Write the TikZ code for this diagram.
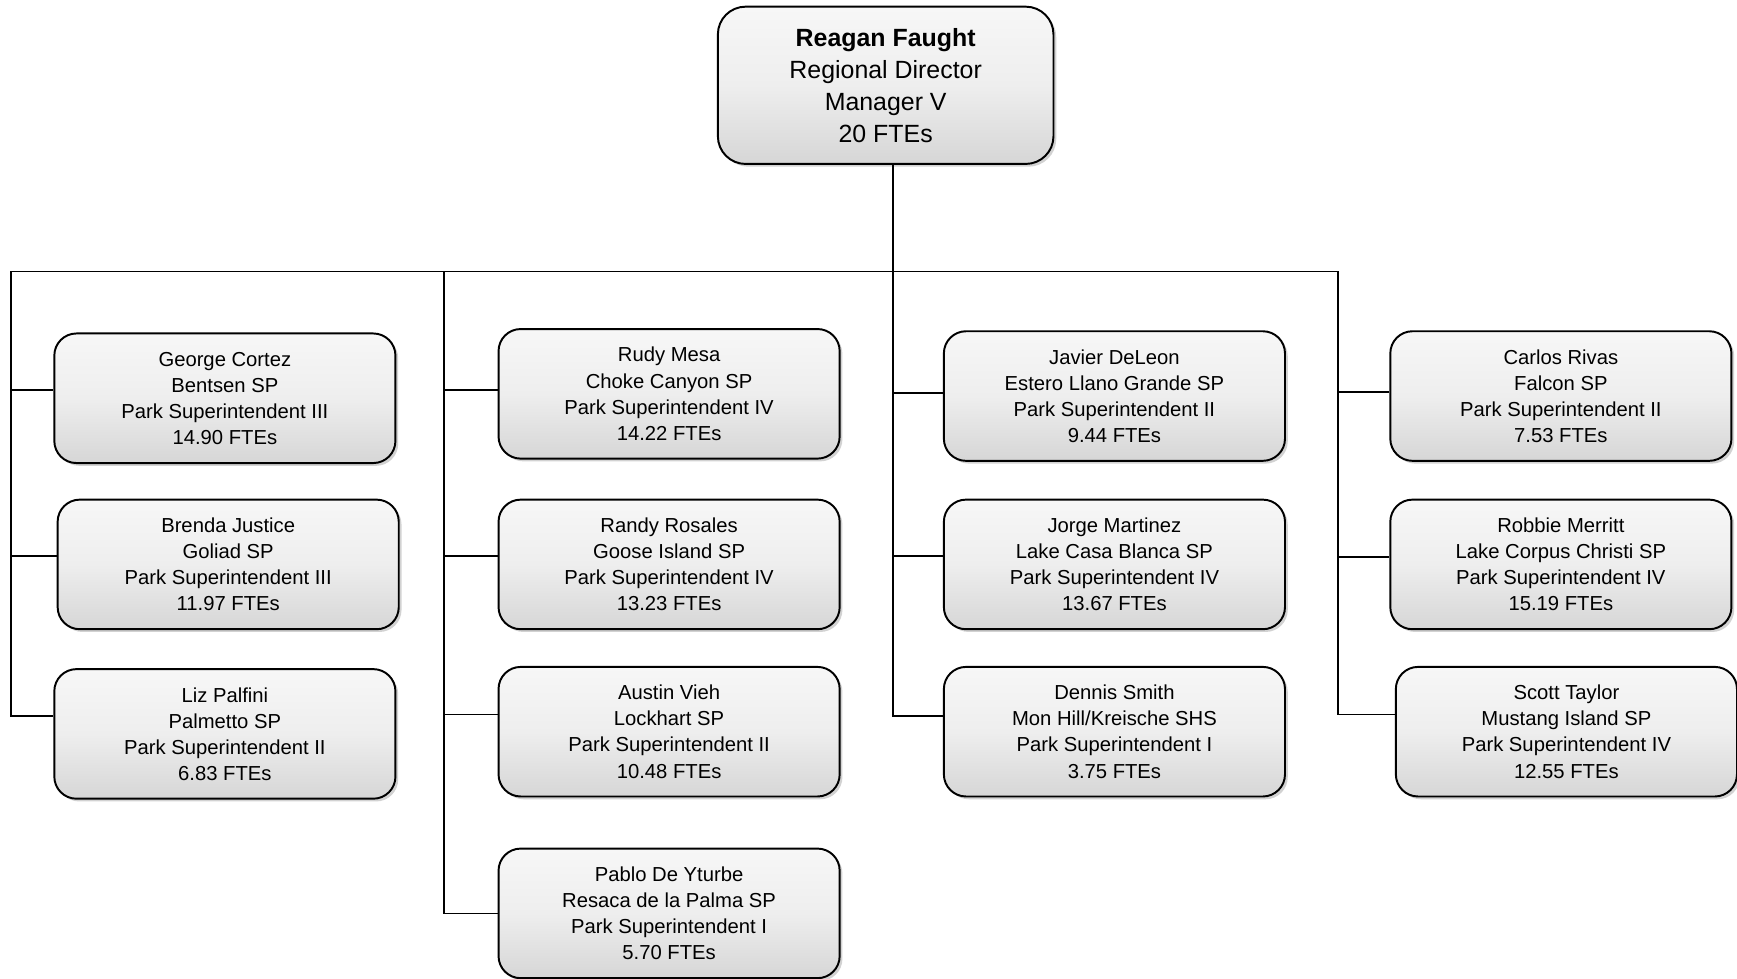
\documentclass[tikz,border=0pt]{standalone}
\usepackage{fontspec}
\setmainfont{Liberation Sans}
\usepackage{tikz}
\usetikzlibrary{shadows}
\definecolor{boxtop}{RGB}{247,247,247}
\definecolor{boxmid}{RGB}{238,238,238}
\definecolor{boxbottom}{RGB}{214,214,214}
\tikzset{
  staffbox/.style={draw=black, line width=1pt, rounded corners=0.4cm,
    top color=boxtop, bottom color=boxbottom, middle color=boxmid,
    minimum width=6.16cm, minimum height=2.34cm, align=center,
    font=\fontsize{10.4}{13.4}\selectfont,
    drop shadow={shadow xshift=0.05cm, shadow yshift=-0.05cm, fill=gray!70, opacity=0.5}},
  headbox/.style={staffbox, rounded corners=0.5cm, minimum width=6.06cm,
    minimum height=2.84cm, font=\fontsize{12.8}{16.5}\selectfont},
  orgline/.style={line width=0.9pt}
}

\begin{document}
\begin{tikzpicture}[x=0.02cm,y=-0.02cm]
\useasboundingbox (0,0) rectangle (1568,883);

% Regional director
\node[headbox] (top) at (799.5,77) {\textbf{Reagan Faught}\\Regional Director\\Manager V\\20 FTEs};

% First column
\node[staffbox] (b11) at (203,359.5) {George Cortez\\Bentsen SP\\Park Superintendent III\\14.90 FTEs};
\node[staffbox] (b12) at (206,509.5) {Brenda Justice\\Goliad SP\\Park Superintendent III\\11.97 FTEs};
\node[staffbox] (b13) at (203,662.5) {Liz Palfini\\Palmetto SP\\Park Superintendent II\\6.83 FTEs};

% Second column
\node[staffbox] (b21) at (604,355.5) {Rudy Mesa\\Choke Canyon SP\\Park Superintendent IV\\14.22 FTEs};
\node[staffbox] (b22) at (604,509.5) {Randy Rosales\\Goose Island SP\\Park Superintendent IV\\13.23 FTEs};
\node[staffbox] (b23) at (604,660.5) {Austin Vieh\\Lockhart SP\\Park Superintendent II\\10.48 FTEs};
\node[staffbox] (b24) at (604,824.5) {Pablo De Yturbe\\Resaca de la Palma SP\\Park Superintendent I\\5.70 FTEs};

% Third column
\node[staffbox] (b31) at (1006,357.5) {Javier DeLeon\\Estero Llano Grande SP\\Park Superintendent II\\9.44 FTEs};
\node[staffbox] (b32) at (1006,509.5) {Jorge Martinez\\Lake Casa Blanca SP\\Park Superintendent IV\\13.67 FTEs};
\node[staffbox] (b33) at (1006,660.5) {Dennis Smith\\Mon Hill/Kreische SHS\\Park Superintendent I\\3.75 FTEs};

% Fourth column
\node[staffbox] (b41) at (1409,357.5) {Carlos Rivas\\Falcon SP\\Park Superintendent II\\7.53 FTEs};
\node[staffbox] (b42) at (1409,509.5) {Robbie Merritt\\Lake Corpus Christi SP\\Park Superintendent IV\\15.19 FTEs};
\node[staffbox] (b43) at (1414,660.5) {Scott Taylor\\Mustang Island SP\\Park Superintendent IV\\12.55 FTEs};

% Bus lines
\coordinate (busA) at (10,245);
\coordinate (busB) at (401,245);
\coordinate (hub) at (806,245);
\coordinate (busD) at (1208,245);
\draw[orgline] (top.south -| hub) -- (hub);
\draw[orgline] (busA) -- (busD);

\draw[orgline] (busA) |- ([yshift=0.32cm]b13.west);
\draw[orgline] ([yshift=0.15cm]b11.west -| busA) -- ([yshift=0.15cm]b11.west);
\draw[orgline] ([yshift=0.15cm]b12.west -| busA) -- ([yshift=0.15cm]b12.west);

\draw[orgline] (busB) |- (b24.west);
\draw[orgline] ([yshift=0.07cm]b21.west -| busB) -- ([yshift=0.07cm]b21.west);
\draw[orgline] ([yshift=0.15cm]b22.west -| busB) -- ([yshift=0.15cm]b22.west);
\draw[orgline] ([yshift=0.31cm]b23.west -| busB) -- ([yshift=0.31cm]b23.west);

\draw[orgline] (hub) |- ([yshift=0.29cm]b33.west);
\draw[orgline] ([yshift=0.05cm]b31.west -| hub) -- ([yshift=0.05cm]b31.west);
\draw[orgline] ([yshift=0.15cm]b32.west -| hub) -- ([yshift=0.15cm]b32.west);

\draw[orgline] (busD) |- ([yshift=0.31cm]b43.west);
\draw[orgline] ([yshift=0.07cm]b41.west -| busD) -- ([yshift=0.07cm]b41.west);
\draw[orgline] ([yshift=0.13cm]b42.west -| busD) -- ([yshift=0.13cm]b42.west);
\end{tikzpicture}
\end{document}
